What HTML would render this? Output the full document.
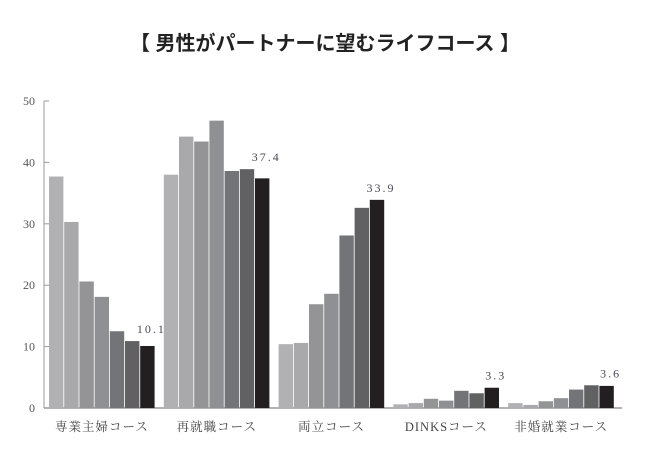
<!DOCTYPE html>
<html><head><meta charset="utf-8"><style>
body{margin:0;background:#fff;}
svg{display:block;font-family:"Liberation Serif","Noto Serif CJK SC",serif;}
</style></head><body>
<svg id="c" width="672" height="452">
<text x="325" y="50" text-anchor="middle" font-size="20" font-weight="bold" fill="#222" font-family="'Liberation Sans','Noto Sans CJK JP',sans-serif">【 男性がパートナーに望むライフコース 】</text>
</svg>
<script>
const categories=["専業主婦コース","再就職コース","両立コース","DINKSコース","非婚就業コース"];
const s1=[37.7,38.0,10.4,0.6,0.8];
const s2=[30.3,44.2,10.6,0.8,0.5];
const s3=[20.6,43.4,16.9,1.5,1.1];
const s4=[18.1,46.8,18.6,1.2,1.6];
const s5=[12.5,38.6,28.1,2.8,3.0];
const s6=[10.9,38.9,32.6,2.4,3.7];
const s7=[10.1,37.4,33.9,3.3,3.6];
const yTicks=[0,10,20,30,40,50];
const series=[s1,s2,s3,s4,s5,s6,s7];
const colors=["#b1b1b4","#a9a9ac","#949497","#8f9093","#737477","#616164","#231f20"];
const NS="http://www.w3.org/2000/svg";
const svg=document.getElementById('c');
const y0=408,y50=101,x0=44;
function y(v){return y0-(y0-y50)*v/50;}
function gx(i){return 49+i*114.8;}
const step=15.2,bw=14.4;
function mk(t,a){const e=document.createElementNS(NS,t);for(const k in a)e.setAttribute(k,a[k]);svg.appendChild(e);return e;}
let l=mk('line',{x1:x0,y1:y0,x2:622,y2:y0,stroke:'#999','stroke-width':1.5});


l=mk('line',{x1:x0,y1:y50,x2:x0,y2:y0,stroke:'#999','stroke-width':1});


yTicks.forEach(t=>{
 const tk=mk('line',{x1:x0,y1:y(t),x2:x0+5,y2:y(t),stroke:'#999'});
 
 
 const tx=mk('text',{x:35,y:y(t)+4,'text-anchor':'end','font-size':12,fill:'#555'});
 tx.textContent=t;
 
 
});
categories.forEach((c,i)=>{
 series.forEach((s,j)=>{
  const r=mk('rect',{x:gx(i)+j*step,y:y(s[i]),width:bw,height:y0-y(s[i]),fill:colors[j]});
  
  
 });
 const v=s7[i];
 const lb=mk('text',{x:gx(i)+6*step+bw/2+4,y:y(Math.max(v,s6[i]))-8,'text-anchor':'middle','font-size':12,fill:'#4a4a55','letter-spacing':'2'});
 lb.textContent=v.toFixed(1);
 
 
 const cl=mk('text',{x:gx(i)+53,y:431,'text-anchor':'middle','font-size':12.5,fill:'#444','letter-spacing':'1'});
 cl.textContent=c;
 
 
});
</script>
</body></html>
